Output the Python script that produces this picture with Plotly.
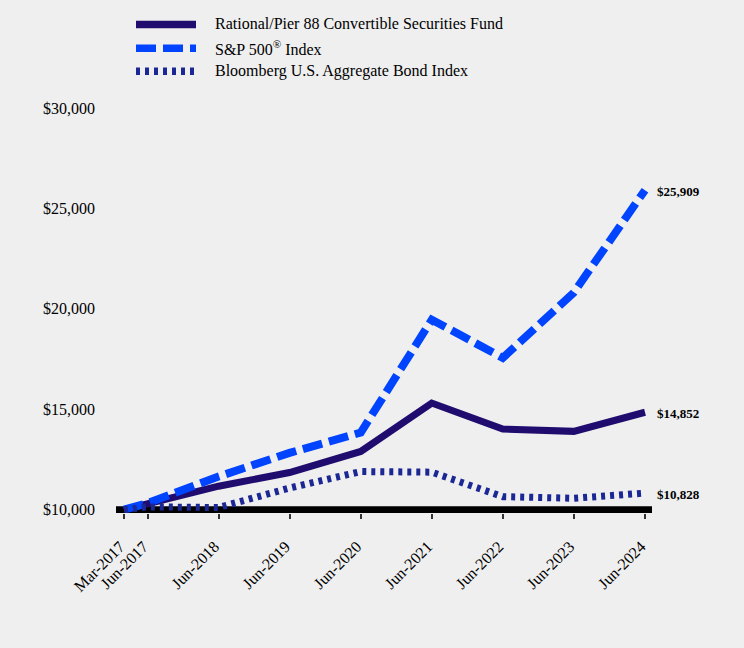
import plotly.graph_objects as go

# ---- data ----
dates = ["2017-03-01", "2017-06-30", "2018-06-30", "2019-06-30", "2020-06-30",
         "2021-06-30", "2022-06-30", "2023-06-30", "2024-06-30"]
tick_labels = ["Mar-2017", "Jun-2017", "Jun-2018", "Jun-2019", "Jun-2020",
               "Jun-2021", "Jun-2022", "Jun-2023", "Jun-2024"]
fund = [10000, 10270, 11170, 11850, 12900, 15310, 14020, 13900, 14852]
sp500 = [10000, 10330, 11650, 12830, 13840, 19460, 17560, 20810, 25909]
bond = [10000, 10140, 10110, 11080, 11900, 11870, 10650, 10570, 10828]
series_names = ["Rational/Pier 88 Convertible Securities Fund",
                "S&P 500<sup>®</sup> Index",
                "Bloomberg U.S. Aggregate Bond Index"]
y_ticks = [10000, 15000, 20000, 25000, 30000]
y_tick_labels = ["$10,000", "$15,000", "$20,000", "$25,000", "$30,000"]

# ---- style ----
FONT = "Liberation Serif, Times New Roman, serif"
BG = "#efefef"
C_FUND = "#200c6e"
C_SP = "#0044ff"
C_BOND = "#1c2796"
W, H = 744, 648
L, R, T, B = 116, 92, 108, 135
PW, PH = W - L - R, H - T - B

def px_x(p):
    return (p - L) / PW

def px_y(p):
    return (H - B - p) / PH

fig = go.Figure()
styles = [
    (fund, C_FUND, 7, "solid"),
    (sp500, C_SP, 8, "20px,7px"),
    (bond, C_BOND, 7, "4px,5px"),
]
for (vals, col, wd, dash), name in zip(styles, series_names):
    fig.add_trace(go.Scatter(x=dates, y=vals, mode="lines", name=name,
                             line=dict(color=col, width=wd, dash=dash),
                             showlegend=False, hoverinfo="skip"))
    fig.add_annotation(x=dates[-1], y=vals[-1], text=f"<b>${vals[-1]:,}</b>",
                       showarrow=False, xanchor="left", yanchor="middle",
                       xshift=10, yshift=-1,
                       font=dict(family=FONT, size=13, color="#000"))

# axis bar at $10,000
fig.add_shape(type="line", xref="paper", x0=0, x1=1, yref="y", y0=10000, y1=10000,
              line=dict(color="#000", width=7), layer="below")

# manual legend
legend_rows = [24.5, 48.3, 71.3]
for (vals, col, wd, dash), name, yy in zip(styles, series_names, legend_rows):
    fig.add_shape(type="line", xref="paper", yref="paper",
                  x0=px_x(136), x1=px_x(196), y0=px_y(yy), y1=px_y(yy),
                  line=dict(color=col, width=7.5, dash=dash))
    fig.add_annotation(xref="paper", yref="paper", x=px_x(213), y=px_y(yy - 0.5),
                       text=name, showarrow=False, xanchor="left", yanchor="middle",
                       font=dict(family=FONT, size=16, color="#000"))

fig.update_layout(
    width=W, height=H,
    margin=dict(l=L, r=R, t=T, b=B),
    paper_bgcolor=BG, plot_bgcolor=BG,
    font=dict(family=FONT, size=16, color="#000"),
    showlegend=False,
    xaxis=dict(type="date", range=["2017-01-19", "2024-08-05"],
               tickvals=dates, ticktext=tick_labels, tickangle=-45,
               ticks="outside", ticklen=5, tickwidth=2, tickcolor="#333",
               ticklabelstandoff=12, ticklabelshift=-4,
               showgrid=False, zeroline=False, showline=False,
               tickfont=dict(family=FONT, size=16, color="#000")),
    yaxis=dict(range=[9836, 30000], tickvals=y_ticks, ticktext=y_tick_labels,
               showgrid=False, zeroline=False, showline=False, ticks="",
               ticklabelstandoff=20,
               tickfont=dict(family=FONT, size=16, color="#000")),
)

fig.write_html(
    "out.html",
    config={"displayModeBar": False},
    post_script=("document.body.style.margin='0';"
                 "document.body.style.padding='0';"
                 "document.body.style.background='" + BG + "';"),
)
